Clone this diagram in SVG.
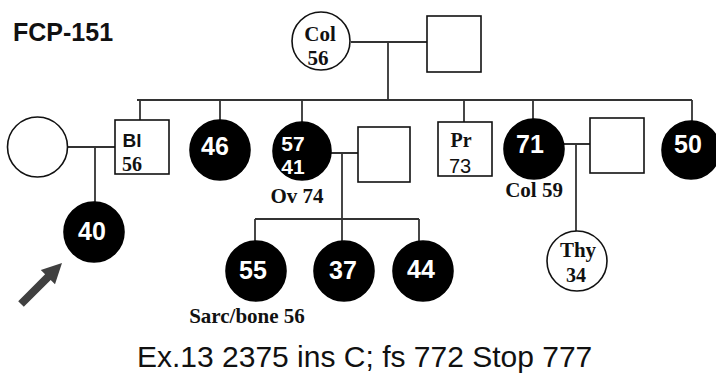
<svg xmlns="http://www.w3.org/2000/svg" width="716" height="374" viewBox="0 0 716 374">
<style>
.ln{stroke:#333;stroke-width:1.8;fill:none}
.o{fill:#fff;stroke:#111;stroke-width:1.6}
.f{fill:#000;stroke:#000;stroke-width:1.6}
.w{font-family:"Liberation Sans",Arial,sans-serif;font-weight:bold;fill:#fff;text-anchor:middle}
.s{font-family:"Liberation Serif","Times New Roman",serif;font-weight:bold;fill:#111;text-anchor:middle}
.a{font-family:"Liberation Sans",Arial,sans-serif;fill:#111}
</style>
<rect width="716" height="374" fill="#fff"/>
<text class="a" x="13" y="41" font-size="25" font-weight="bold">FCP-151</text>
<g id="connectors">
<path class="ln" d="M351 42H427M388 42V100M137 100H692"/>
<path class="ln" d="M140 100V120M220 100V120M302 100V122M464 100V122M533 100V120M692 100V122"/>
<path class="ln" d="M67 147H115M95 147V202"/>
<path class="ln" d="M331 153H358M342 153V241M255 219H419M255 219V241M419 219V241"/>
<path class="ln" d="M564 144H590M576 144V231"/>
</g>
<g id="col56"><circle class="o" cx="321" cy="41" r="29"/><text class="s" x="320" y="41" font-size="21">Col</text><text class="s" x="318" y="65" font-size="21" font-weight="normal">56</text></g>
<g id="gf"><rect class="o" x="427" y="16" width="54" height="56"/></g>
<g id="spouse1"><circle class="o" cx="37.5" cy="147" r="30"/></g>
<g id="bl56"><rect class="o" x="115" y="120" width="54" height="54"/><text class="w" x="132" y="147" font-size="19" style="fill:#111">Bl</text><text class="s" x="132" y="171" font-size="20" font-weight="normal">56</text></g>
<g id="n46"><circle class="f" cx="220" cy="150" r="30"/><text class="w" x="215" y="155" font-size="25">46</text></g>
<g id="n57"><circle class="f" cx="302" cy="151" r="29"/><text class="w" x="293" y="151" font-size="21">57</text><text class="w" x="293" y="174" font-size="21">41</text><text class="s" x="297" y="203" font-size="21" font-weight="normal">Ov 74</text></g>
<g id="sp57"><rect class="o" x="358" y="127" width="52" height="55"/></g>
<g id="pr73"><rect class="o" x="438" y="122" width="54" height="54"/><text class="s" x="461" y="147" font-size="20" font-weight="normal">Pr</text><text class="a" x="460" y="173" font-size="20" text-anchor="middle">73</text></g>
<g id="n71"><circle class="f" cx="534" cy="149" r="30"/><text class="w" x="530" y="153" font-size="25">71</text><text class="s" x="534" y="197" font-size="21">Col 59</text></g>
<g id="sp71"><rect class="o" x="590" y="118" width="54" height="55"/></g>
<g id="n50"><circle class="f" cx="691" cy="150" r="29"/><text class="w" x="688" y="153" font-size="25">50</text></g>
<g id="n40"><circle class="f" cx="94" cy="232" r="30"/><text class="w" x="92" y="240" font-size="25">40</text></g>
<g id="n55"><circle class="f" cx="256" cy="271" r="30"/><text class="w" x="253" y="279" font-size="25">55</text><text class="s" x="247" y="323" font-size="21">Sarc/bone 56</text></g>
<g id="n37"><circle class="f" cx="344" cy="271" r="30"/><text class="w" x="343" y="279" font-size="25">37</text></g>
<g id="n44"><circle class="f" cx="423" cy="271" r="30"/><text class="w" x="421" y="278" font-size="25">44</text></g>
<g id="thy34"><circle class="o" cx="577" cy="261" r="30"/><text class="s" x="578" y="257" font-size="21">Thy</text><text class="s" x="576" y="282" font-size="20" font-weight="normal">34</text></g>
<polygon fill="#404040" points="62,263 55,284.2 50.7,279.9 23.8,306.8 18.2,301.2 45.1,274.3 40.8,270"/>
<text class="a" x="137" y="367" font-size="30">Ex.13 2375 ins C; fs 772 Stop 777</text>
</svg>
